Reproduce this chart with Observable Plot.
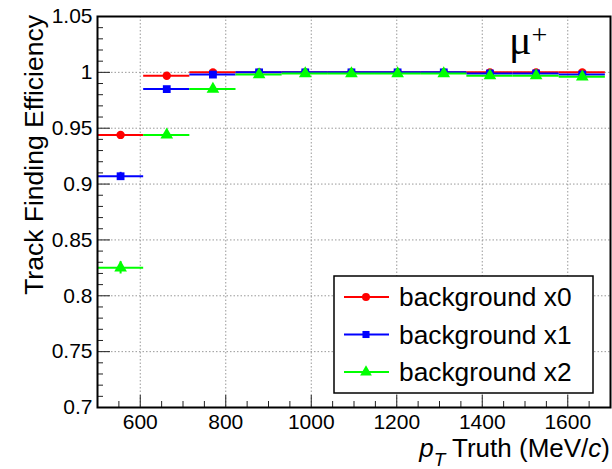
<!DOCTYPE html>
<html><head><meta charset="utf-8">
<script src="https://cdn.jsdelivr.net/npm/d3@7"></script>
<script src="https://cdn.jsdelivr.net/npm/@observablehq/plot@0.6"></script>
<style>body{margin:0;background:#fff;} svg{display:block;}</style>
</head><body><div id="chart"></div>
<script>
// ---- data ----
const binLow    = [500, 608, 716, 824, 932, 1040, 1148, 1256, 1364, 1472, 1580];
const binHigh   = [608, 716, 824, 932, 1040, 1148, 1256, 1364, 1472, 1580, 1688];
const binCenter = [554, 662, 770, 878, 986, 1094, 1202, 1310, 1418, 1526, 1634];

const effBkg0 = [0.944, 0.997, 1.000, 1.000, 1.000, 1.000, 1.000, 1.000, 1.000, 1.000, 1.000];
const errBkg0 = [0.003, 0.0015, 0.0005, 0.0003, 0.0003, 0.0003, 0.0003, 0.0003, 0.0003, 0.0003, 0.0003];
const effBkg1 = [0.907, 0.985, 0.998, 1.000, 1.000, 1.000, 1.000, 1.000, 0.999, 0.999, 0.998];
const errBkg1 = [0.0035, 0.002, 0.001, 0.0005, 0.0005, 0.0005, 0.0005, 0.0005, 0.0007, 0.0007, 0.0008];
const effBkg2 = [0.825, 0.944, 0.985, 0.998, 0.999, 0.999, 0.999, 0.999, 0.997, 0.997, 0.996];
const errBkg2 = [0.0055, 0.003, 0.002, 0.001, 0.0007, 0.0007, 0.0007, 0.0007, 0.001, 0.001, 0.001];

const seriesNames   = ["background x0", "background x1", "background x2"];
const seriesColors  = ["#ff0000", "#0000ff", "#00ff00"];
const seriesSymbols = ["circle", "square", "triangle"];
const seriesEff = [effBkg0, effBkg1, effBkg2];
const seriesErr = [errBkg0, errBkg1, errBkg2];

const xTicks = [600, 800, 1000, 1200, 1400, 1600];
const xMinor = [550, 650, 700, 750, 850, 900, 950, 1050, 1100, 1150, 1250, 1300, 1350, 1450, 1500, 1550, 1650];
const yTicks = [0.7, 0.75, 0.8, 0.85, 0.9, 0.95, 1, 1.05];
const yMinor = [0.71,0.72,0.73,0.74,0.76,0.77,0.78,0.79,0.81,0.82,0.83,0.84,0.86,0.87,0.88,0.89,
                0.91,0.92,0.93,0.94,0.96,0.97,0.98,0.99,1.01,1.02,1.03,1.04];

// ---- layout ----
const W = 612, H = 469;
const mL = 97, mR = 2, mT = 16, mB = 62;
const plotW = W - mL - mR, plotH = H - mT - mB;
const font = "Liberation Sans, Arial, Helvetica, sans-serif";

const seriesMarks = seriesNames.flatMap((name, s) => {
  const rows = binCenter.map((c, i) => ({
    c, lo: binLow[i], hi: binHigh[i], v: seriesEff[s][i], e: seriesErr[s][i]
  }));
  const col = seriesColors[s];
  return [
    Plot.ruleY(rows, {y: "v", x1: "lo", x2: "hi", stroke: col, strokeWidth: 2}),
    Plot.ruleX(rows, {x: "c", y1: d => d.v - d.e, y2: d => d.v + d.e, stroke: col, strokeWidth: 2}),
    Plot.dot(rows, {x: "c", y: "v", fill: col, stroke: "none",
      symbol: seriesSymbols[s], r: s === 0 ? 4.2 : s === 1 ? 4.4 : 4.7})
  ];
});

const chart = Plot.plot({
  width: W, height: H,
  marginLeft: mL, marginRight: mR, marginTop: mT, marginBottom: mB,
  style: {fontFamily: font, color: "black", background: "white"},
  x: {domain: [500, 1700]},
  y: {domain: [0.7, 1.05]},
  marks: [
    Plot.gridX(xTicks, {stroke: "#999", strokeOpacity: 1, strokeDasharray: "1.5,2"}),
    Plot.gridY(yTicks, {stroke: "#999", strokeOpacity: 1, strokeDasharray: "1.5,2"}),
    Plot.tickY(yTicks, {y: d => d, stroke: "#222", insetRight: plotW - 13}),
    Plot.tickY(yMinor, {y: d => d, stroke: "#222", insetRight: plotW - 6}),
    Plot.tickX(xTicks, {x: d => d, stroke: "#222", insetTop: plotH - 12}),
    Plot.tickX(xMinor, {x: d => d, stroke: "#222", insetTop: plotH - 6}),
    Plot.axisX(xTicks, {tickSize: 0, tickPadding: 7, fontSize: 21, label: null, tickFormat: d => String(d)}),
    Plot.axisY(yTicks, {tickSize: 0, tickPadding: 5, fontSize: 21, label: null, tickFormat: d => String(d)}),
    ...seriesMarks,
    Plot.frame({stroke: "black", strokeWidth: 2})
  ]
});
document.getElementById("chart").appendChild(chart);

// ---- titles and legend ----
const svg = d3.select(chart);
// y title
svg.append("text")
  .attr("transform", "translate(43,15) rotate(-90)")
  .attr("text-anchor", "end")
  .attr("font-family", font).attr("font-size", 26.5).attr("fill", "black")
  .text("Track Finding Efficiency");
// x title
const xt = svg.append("text")
  .attr("x", 610).attr("y", 457)
  .attr("text-anchor", "end")
  .attr("font-family", font).attr("font-size", 26).attr("fill", "black");
xt.append("tspan").attr("font-style", "italic").text("p");
xt.append("tspan").attr("font-style", "italic").attr("font-size", 19).attr("dy", 9).text("T");
xt.append("tspan").attr("dy", -9).text(" Truth (MeV/");
xt.append("tspan").attr("font-style", "italic").text("c");
xt.append("tspan").text(")");
// mu+ label
const mu = svg.append("text")
  .attr("x", 509).attr("y", 54).attr("text-anchor", "start")
  .attr("font-family", "Liberation Serif, Times New Roman, serif").attr("font-size", 42).attr("fill", "black");
mu.append("tspan").text("μ");
mu.append("tspan").attr("font-size", 28).attr("dy", -10).text("+");

// legend
const lg = svg.append("g");
lg.append("rect").attr("x", 334).attr("y", 276).attr("width", 259).attr("height", 117)
  .attr("fill", "white").attr("stroke", "black").attr("stroke-width", 1.5);
const entryY = [297, 334.5, 372];
seriesNames.forEach((name, s) => {
  const y = entryY[s];
  lg.append("line").attr("x1", 344).attr("x2", 389).attr("y1", y).attr("y2", y)
    .attr("stroke", seriesColors[s]).attr("stroke-width", 2);
  const sym = d3.symbol().type(s === 0 ? d3.symbolCircle : s === 1 ? d3.symbolSquare : d3.symbolTriangle)
    .size(s === 0 ? 50 : s === 1 ? 50 : 60);
  lg.append("path").attr("d", sym()).attr("transform", `translate(366,${y})`).attr("fill", seriesColors[s]);
  lg.append("text").attr("x", 399).attr("y", y).attr("dy", "0.36em").attr("text-anchor", "start")
    .attr("font-family", font).attr("font-size", 26.3).attr("fill", "black").text(name);
});
</script></body></html>
